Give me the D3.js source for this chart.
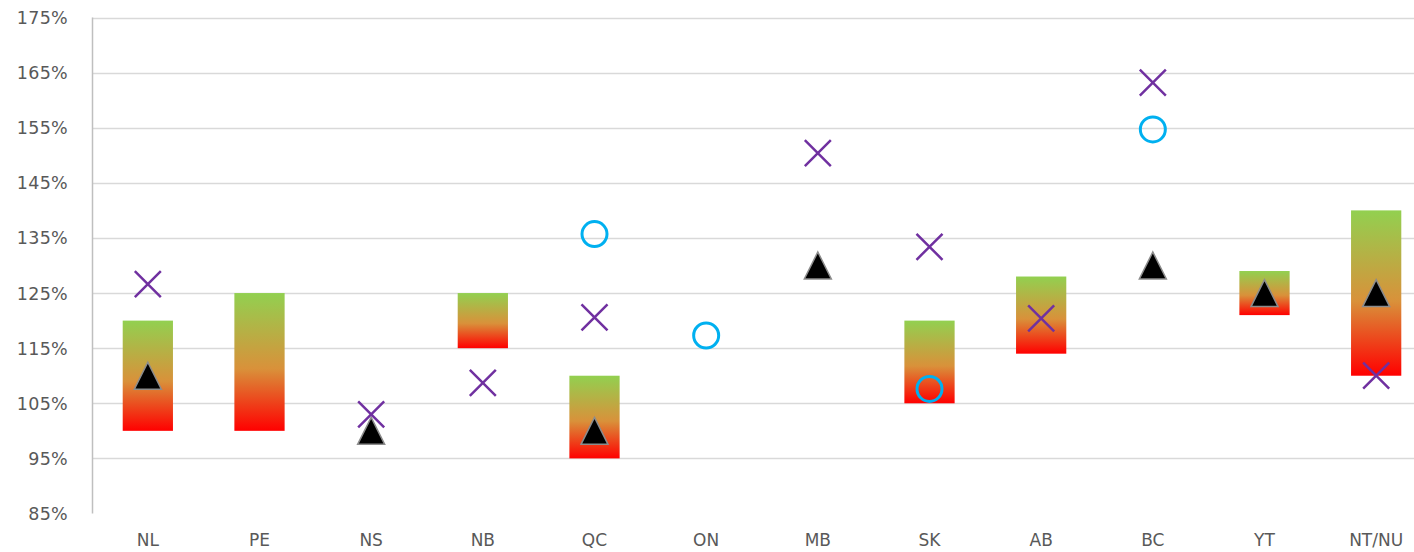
<!DOCTYPE html>
<html>
<head>
<meta charset="utf-8">
<script src="https://cdn.jsdelivr.net/npm/d3@7"></script>
<style>
  body { margin: 0; background: #fff; }
  text { font-family: "DejaVu Sans", sans-serif; fill: #595959; }
</style>
</head>
<body>
<div id="chart"></div>
<script>
// provinces / territories
var categories = ["NL", "PE", "NS", "NB", "QC", "ON", "MB", "SK", "AB", "BC", "YT", "NT/NU"];
// target range (floating bars), in percent
var rangeLow  = [100, 100, null, 115,  95, null, null, 105, 114, null, 121, 110];
var rangeHigh = [120, 125, null, 125, 110, null, null, 120, 128, null, 129, 140];
// marker series
var triangleVals = [110, null, 100, null, 100, null, 130, null, null, 130, 125, 125];
var crossVals    = [126.6, null, 103, 108.7, 120.6, null, 150.4, 133.4, 120.4, 163.2, null, 110];
var circleVals   = [null, null, null, null, 135.7, 117.3, null, 107.6, null, 154.7, null, null];
var yTicks = [85, 95, 105, 115, 125, 135, 145, 155, 165, 175];

var width = 1414, height = 552;
var svg = d3.select("#chart").append("svg")
    .attr("width", width)
    .attr("height", height);

var y = d3.scaleLinear().domain([85, 175]).range([513.5, 17.5]);
var x = d3.scaleBand().domain(categories).range([92, 1432]).padding(0);
var barW = x.bandwidth() * 0.45;

// gradient for the bars, green on top to red at the bottom
var grad = svg.append("defs").append("linearGradient")
    .attr("id", "rangeGrad")
    .attr("x1", 0).attr("y1", 0).attr("x2", 0).attr("y2", 1);
grad.append("stop").attr("offset", "0%").attr("stop-color", "#92D050");
grad.append("stop").attr("offset", "55%").attr("stop-color", "#D9913A");
grad.append("stop").attr("offset", "100%").attr("stop-color", "#FF0000");

// gridlines
svg.append("g").selectAll("line")
    .data(yTicks.filter(function(d){ return d > 85; }))
    .enter().append("line")
    .attr("x1", 92).attr("x2", width)
    .attr("y1", function(d){ return Math.round(y(d)) + 0.5; })
    .attr("y2", function(d){ return Math.round(y(d)) + 0.5; })
    .attr("stroke", "#D9D9D9")
    .attr("stroke-width", 1.5);

// vertical axis line
svg.append("line")
    .attr("x1", 92.5).attr("x2", 92.5)
    .attr("y1", y(175)).attr("y2", y(85))
    .attr("stroke", "#BFBFBF")
    .attr("stroke-width", 1.5);

// y tick labels
svg.append("g").selectAll("text")
    .data(yTicks)
    .enter().append("text")
    .attr("x", 68)
    .attr("y", function(d){ return y(d) + 6.5; })
    .attr("text-anchor", "end")
    .style("font-size", "17.5px")
    .style("letter-spacing", "0.3px")
    .text(function(d){ return d + "%"; });

// x labels
svg.append("g").selectAll("text")
    .data(categories)
    .enter().append("text")
    .attr("x", function(d){ return x(d) + x.bandwidth() / 2; })
    .attr("y", 546)
    .attr("text-anchor", "middle")
    .style("font-size", "17px")
    .text(function(d){ return d; });

// floating bars
var barData = categories.map(function(c, i){
    return {cat: c, lo: rangeLow[i], hi: rangeHigh[i]};
}).filter(function(d){ return d.lo != null; });

svg.append("g").selectAll("rect")
    .data(barData)
    .enter().append("rect")
    .attr("x", function(d){ return x(d.cat) + (x.bandwidth() - barW) / 2; })
    .attr("width", barW)
    .attr("y", function(d){ return y(d.hi); })
    .attr("height", function(d){ return y(d.lo) - y(d.hi); })
    .attr("fill", "url(#rangeGrad)");

function cx(c){ return x(c) + x.bandwidth() / 2; }
function pts(vals){
    return categories.map(function(c, i){ return {cat: c, v: vals[i]}; })
        .filter(function(d){ return d.v != null; });
}

// triangles
svg.append("g").selectAll("path")
    .data(pts(triangleVals))
    .enter().append("path")
    .attr("d", "M0,-13.5L13.5,13.5L-13.5,13.5Z")
    .attr("transform", function(d){ return "translate(" + cx(d.cat) + "," + y(d.v) + ")"; })
    .attr("fill", "#000")
    .attr("stroke", "#8C8C8C")
    .attr("stroke-width", 1.5);

// crosses
svg.append("g").selectAll("path")
    .data(pts(crossVals))
    .enter().append("path")
    .attr("d", "M-13,-13L13,13M13,-13L-13,13")
    .attr("transform", function(d){ return "translate(" + cx(d.cat) + "," + y(d.v) + ")"; })
    .attr("fill", "none")
    .attr("stroke", "#7030A0")
    .attr("stroke-width", 2.5);

// circles
svg.append("g").selectAll("circle")
    .data(pts(circleVals))
    .enter().append("circle")
    .attr("cx", function(d){ return cx(d.cat); })
    .attr("cy", function(d){ return y(d.v); })
    .attr("r", 12.5)
    .attr("fill", "none")
    .attr("stroke", "#00B0F0")
    .attr("stroke-width", 3);
</script>
</body>
</html>
